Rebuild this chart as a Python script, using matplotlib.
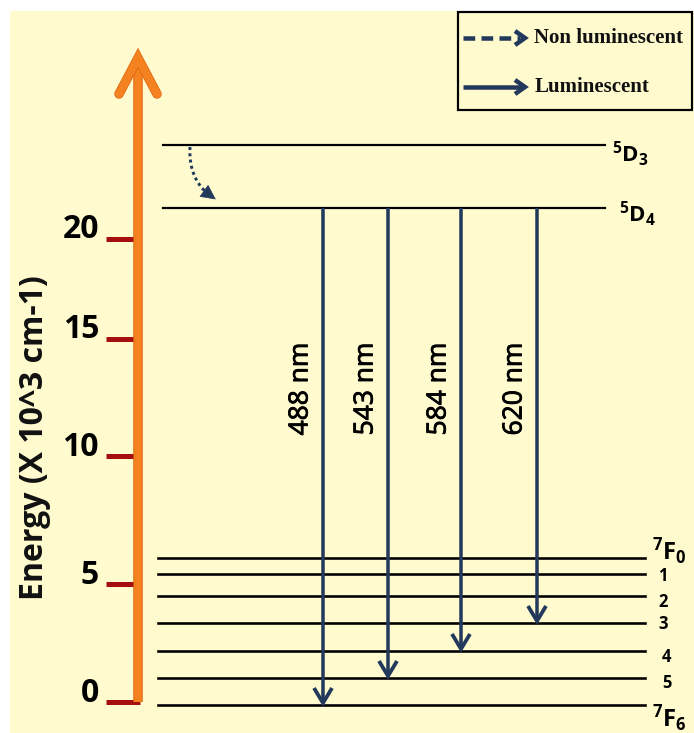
import matplotlib
matplotlib.use('Agg')
import matplotlib.pyplot as plt
import matplotlib.patheffects as pe
from matplotlib.patches import Rectangle
import numpy as np

# ---------------- data (diagram units = rows/cols of the reference picture) ----------------
tick_labels = ['0', '5', '10', '15', '20']
tick_y = [702, 584, 456, 339, 239]

upper_labels = [r'$\mathregular{^{5}D_{3}}$', r'$\mathregular{^{5}D_{4}}$']
upper_y = [145, 208]

lower_labels = [r'$\mathregular{^{7}F_{0}}$', '1', '2', '3', '4', '5', r'$\mathregular{^{7}F_{6}}$']
lower_y = [558, 574, 596, 623, 651, 678, 705]

wavelengths = ['488 nm', '543 nm', '584 nm', '620 nm']
trans_x = [323, 388, 461, 537]
trans_final = [6, 5, 4, 3]          # index into lower levels (7F6, 7F5, 7F4, 7F3)

legend_labels = ['Non luminescent', 'Luminescent']

# ---------------- style ----------------
W, H = 694, 733
BG = '#FFFBCF'
NAVY = '#22395C'
ORANGE = '#F58220'
RED = '#A50F0F'
PX = 0.72  # points per pixel at dpi 100

plt.rcParams['font.family'] = ['Open Sans', 'DejaVu Sans']

fig = plt.figure(figsize=(W / 100, H / 100), dpi=100)
fig.patch.set_facecolor('white')
ax = fig.add_axes([0, 0, 1, 1])
ax.set_xlim(0, W)
ax.set_ylim(H, 0)
ax.axis('off')

ax.add_patch(Rectangle((10, 11), W - 10, H - 11, facecolor=BG, edgecolor='none', zorder=0))


def chevron_down(x, y, w, l, color, lw, z=5):
    ax.plot([x - w, x, x + w], [y - l, y, y - l], color=color, lw=lw,
            solid_capstyle='butt', solid_joinstyle='miter', zorder=z)


def chevron_right(x, y, w, l, color, lw, z=5):
    ax.plot([x - l, x, x - l], [y - w, y, y + w], color=color, lw=lw,
            solid_capstyle='butt', solid_joinstyle='miter', zorder=z)


# ---------------- energy axis (orange arrow) ----------------
edge = [pe.Stroke(linewidth=9.5 * PX, foreground='#E0650F'), pe.Normal()]
ax.plot([138, 138], [tick_y[0], 62], color=ORANGE, lw=7.5 * PX,
        solid_capstyle='butt', zorder=3, path_effects=edge)
ax.plot([119, 138, 157], [94, 58, 94], color=ORANGE, lw=8 * PX,
        solid_capstyle='round', solid_joinstyle='miter', zorder=3, path_effects=edge)

for lab, ty in zip(tick_labels, tick_y):
    ax.plot([106, 140], [ty, ty], color=RED, lw=5 * PX, solid_capstyle='butt', zorder=2)
    ax.text(99, ty - 9, lab, ha='right', va='center', fontsize=23, fontweight='bold',
            color='black', zorder=4)

ax.text(35, 438, 'Energy (X 10^3 cm-1)', rotation=90, ha='center', va='center',
        fontsize=23, fontweight='bold', color='#111111')

# ---------------- energy levels ----------------
for lab, ly in zip(upper_labels, upper_y):
    ax.plot([163, 605], [ly, ly], color='black', lw=2.2 * PX, zorder=2)
ax.text(612, upper_y[0] + 9, upper_labels[0], ha='left', va='center', fontsize=16,
        fontweight='bold')
ax.text(619, upper_y[1] + 6, upper_labels[1], ha='left', va='center', fontsize=16,
        fontweight='bold')

lab_dy = [-7, 2, 6, 1, 6, 5, 13]
for i, (lab, ly) in enumerate(zip(lower_labels, lower_y)):
    ax.plot([158, 645], [ly, ly], color='black', lw=2.6 * PX, zorder=2)
    if i in (0, len(lower_labels) - 1):
        ax.text(652, ly + lab_dy[i], lab, ha='left', va='center', fontsize=17,
                fontweight='bold')
    else:
        ax.text(658 + (4 if i >= 4 else 0), ly + lab_dy[i], lab, ha='left', va='center',
                fontsize=12, fontweight='bold')

# ---------------- luminescent transitions ----------------
for wl, tx, fi in zip(wavelengths, trans_x, trans_final):
    tip = lower_y[fi] - 2
    ax.plot([tx, tx], [upper_y[1], tip - 3], color=NAVY, lw=3.5 * PX,
            solid_capstyle='butt', zorder=4)
    chevron_down(tx, tip, 9, 15, NAVY, 3.8 * PX, z=5)
    ax.text(tx - 22, 389, wl, rotation=90, ha='center', va='center', fontsize=19,
            fontweight='normal', color='black', zorder=4,
            path_effects=[pe.withStroke(linewidth=0.6, foreground='black')])

# ---------------- non-luminescent relaxation (dotted curved arrow) ----------------
p0 = np.array([190.0, upper_y[0] + 2])
pc = np.array([188.0, 184.0])
p2 = np.array([218.0, 201.0])
t = np.linspace(0, 0.82, 40)[:, None]
curve = (1 - t) ** 2 * p0 + 2 * (1 - t) * t * pc + t ** 2 * p2
ax.plot(curve[:, 0], curve[:, 1], color=NAVY, lw=3 * PX, linestyle=(0, (1, 1.1)), zorder=4)
tb = 0.78
pb = (1 - tb) ** 2 * p0 + 2 * (1 - tb) * tb * pc + tb ** 2 * p2
ax.annotate('', xy=p2, xytext=pb,
            arrowprops=dict(arrowstyle='-|>,head_length=0.7,head_width=0.35',
                            color=NAVY, lw=0.5, mutation_scale=14), zorder=5)

# ---------------- legend box ----------------
ax.add_patch(Rectangle((458, 12), 234, 98, facecolor='none', edgecolor='black',
                       lw=2.2 * PX, zorder=6))
leg_y = [38, 87]
# dashed arrow
ax.plot([463, 520], [leg_y[0], leg_y[0]], color=NAVY, lw=4.5 * PX,
        linestyle=(0, (2.6, 1.4)), solid_capstyle='butt', zorder=6)
chevron_right(525, leg_y[0], 7, 10, NAVY, 4.5 * PX, z=6)
# solid arrow
ax.plot([463, 521], [leg_y[1], leg_y[1]], color=NAVY, lw=4.5 * PX,
        solid_capstyle='butt', zorder=6)
chevron_right(525, leg_y[1], 7, 10, NAVY, 4.5 * PX, z=6)

for lab, ly, lx in zip(legend_labels, leg_y, [534, 535]):
    ax.text(lx, ly, lab, ha='left', va='center', fontsize=15, fontweight='bold',
            family=['Liberation Serif', 'DejaVu Serif'], color='#111111', zorder=6)

fig.savefig('out.png', dpi=100, facecolor=fig.get_facecolor())
